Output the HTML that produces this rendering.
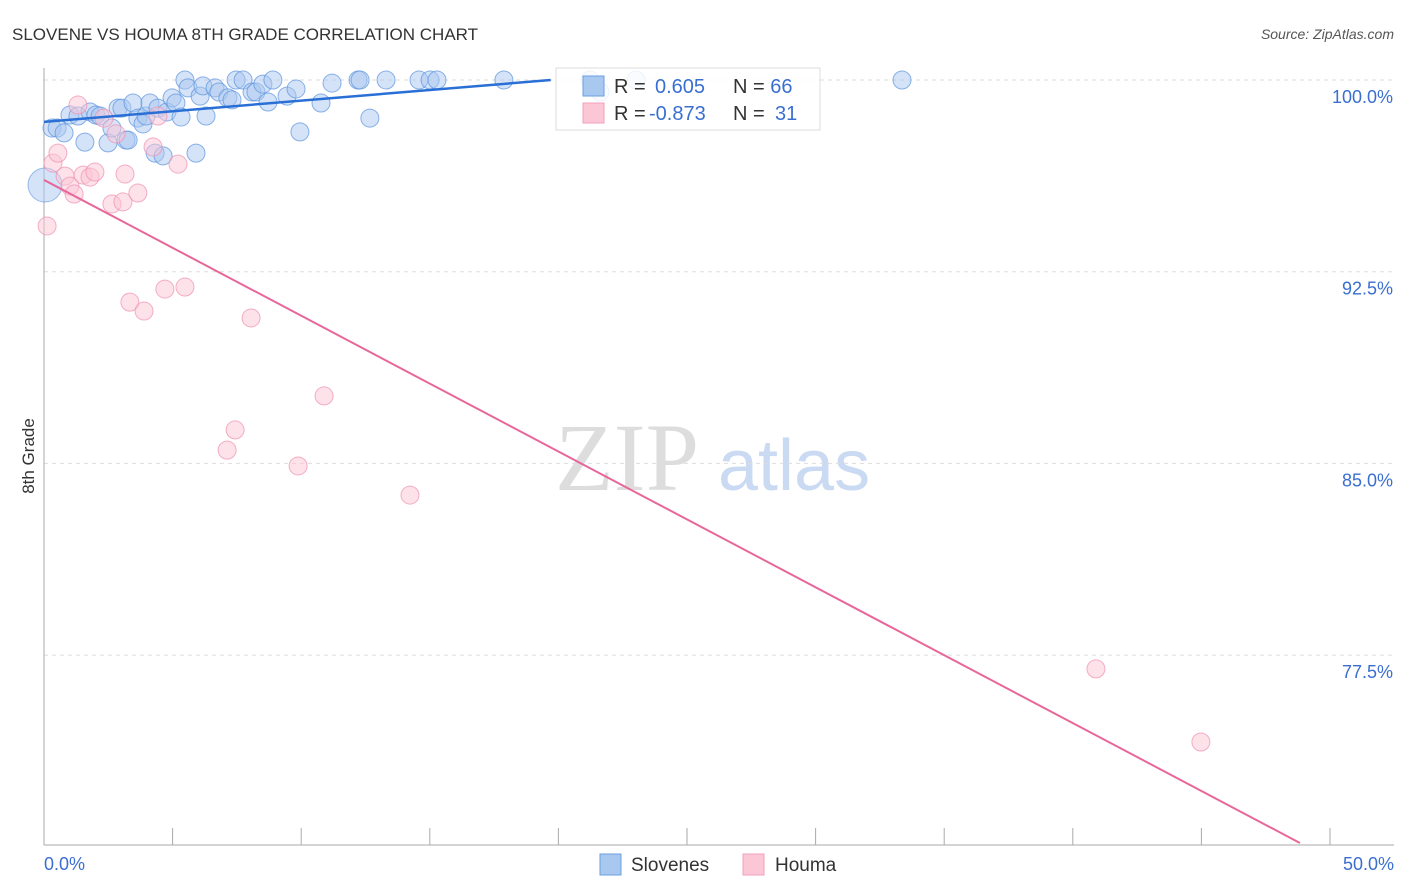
<!DOCTYPE html>
<html><head><meta charset="utf-8"><style>
body{margin:0;background:#fff;font-family:"Liberation Sans",sans-serif;}
svg{display:block}
</style></head><body>
<svg width="1406" height="892">
<text x="12" y="40" font-size="17" fill="#333">SLOVENE VS HOUMA 8TH GRADE CORRELATION CHART</text>
<text x="1394" y="39" font-size="14" fill="#555" font-style="italic" text-anchor="end">Source: ZipAtlas.com</text>
<text x="555" y="490" font-size="96" fill="#ddd" font-family="Liberation Serif,serif">ZIP</text>
<text x="718" y="490" font-size="72" fill="#c9daf2">atlas</text>
<g id="grid"></g>
<g id="axes"></g>
<g id="pts"></g>
<g id="lines"></g>
<text transform="translate(34,456) rotate(-90)" font-size="17" fill="#333" text-anchor="middle">8th Grade</text>
<g>
<rect x="556" y="68" width="264" height="62" fill="#fff" fill-opacity="0.85" stroke="#ddd"/>
<rect x="583" y="76" width="21" height="20" fill="#a9c8f0" stroke="#6a9fe0"/>
<rect x="583" y="103" width="21" height="20" fill="#fbc6d6" stroke="#f3a0bb"/>
<text x="614" y="93" font-size="20" fill="#333">R = <tspan fill="#3a6fd0" x="655">0.605</tspan><tspan x="733" fill="#333">N = </tspan><tspan fill="#3a6fd0">66</tspan></text>
<text x="614" y="120" font-size="20" fill="#333">R = <tspan fill="#3a6fd0" x="649">-0.873</tspan><tspan x="733" fill="#333">N = </tspan><tspan fill="#3a6fd0" x="775">31</tspan></text>
</g>
<g>
<rect x="600" y="854" width="21" height="21" fill="#a9c8f0" stroke="#6a9fe0"/>
<text x="631" y="871" font-size="19" fill="#333">Slovenes</text>
<rect x="743" y="854" width="21" height="21" fill="#fbc6d6" stroke="#f3a0bb"/>
<text x="775" y="871" font-size="19" fill="#333">Houma</text>
</g>
</svg>
<script>
const blueX=[0.31,0.51,0.78,1.01,1.32,1.59,1.79,2.02,2.18,2.49,2.64,2.88,3.03,3.19,3.27,3.46,3.65,3.85,3.97,4.12,4.32,4.43,4.63,4.78,4.98,5.13,5.33,5.48,5.60,5.91,6.07,6.18,6.30,6.65,6.80,7.15,7.31,7.47,7.74,8.09,8.24,8.51,8.71,8.90,9.45,9.80,9.95,10.77,11.20,12.21,12.29,12.67,13.30,14.58,15.01,15.28,17.88,21.23,21.62,23.02,33.36];
const blueY=[98.12,98.12,97.93,98.63,98.59,97.57,98.75,98.63,98.59,97.54,98.12,98.90,98.90,97.65,97.65,99.10,98.51,98.28,98.59,99.10,97.14,98.90,97.03,98.75,99.30,99.10,98.55,100,99.69,97.14,99.37,99.77,98.59,99.69,99.53,99.30,99.22,100,100,99.53,99.53,99.84,99.14,100,99.37,99.65,97.97,99.10,99.88,100,100,98.51,100,100,100,100,100,100,99.53,100,100];
const pinkX=[0.12,0.35,0.54,0.82,1.01,1.17,1.32,1.52,1.79,1.98,2.33,2.64,2.80,3.07,3.15,3.34,3.65,3.89,4.24,4.43,4.70,5.21,5.48,7.12,7.43,8.05,9.88,10.89,14.23,40.90,44.98];
const pinkY=[94.29,96.75,97.14,96.24,95.85,95.54,99.02,96.28,96.20,96.40,98.51,95.15,97.89,95.23,96.32,91.31,95.58,90.96,97.38,98.59,91.82,96.71,91.90,85.52,86.31,90.69,84.90,87.64,83.76,76.96,74.10];
const bigX=[0.04], bigY=[95.89];
const blueTrendX=[0,19.7], blueTrendY=[98.36,100];
const pinkTrendX=[0,48.83], pinkTrendY=[96.09,70.15];
const yTicks=[100,92.5,85,77.5], yTickLabels=["100.0%","92.5%","85.0%","77.5%"];
const xTicks=[0,5,10,15,20,25,30,35,40,45,50];
const X=v=>44+v/50*1286, Y=v=>80+(100-v)*25.56;
const NS="http://www.w3.org/2000/svg";
function mk(p,t,a){const e=document.createElementNS(NS,t);for(const k in a)e.setAttribute(k,a[k]);document.getElementById(p).appendChild(e);return e;}
yTicks.forEach((v,i)=>{
 const l=mk('grid','line',{x1:44,x2:1394,y1:Y(v),y2:Y(v),stroke:'#ddd','stroke-dasharray':'4,4'});
 
 
 const t=mk('grid','text',{x:1393,y:Y(v)+23,'font-size':18,fill:'#3a6fd0','text-anchor':'end'});
 t.textContent=yTickLabels[i];
 
 
});
let a=mk('axes','line',{x1:44,x2:44,y1:68,y2:845,stroke:'#aaa'});


a=mk('axes','line',{x1:44,x2:1394,y1:845,y2:845,stroke:'#aaa'});


xTicks.forEach(v=>{const t=mk('axes','line',{x1:X(v),x2:X(v),y1:828,y2:845,stroke:'#aaa'});
 
 });
let t=mk('axes','text',{x:44,y:870,'font-size':18,fill:'#3a6fd0'});t.textContent=xTicks[0].toFixed(1)+'%';


t=mk('axes','text',{x:1394,y:870,'font-size':18,fill:'#3a6fd0','text-anchor':'end'});t.textContent=xTicks[xTicks.length-1].toFixed(1)+'%';


blueX.forEach((v,i)=>{const c=mk('pts','circle',{cx:X(v),cy:Y(blueY[i]),r:9,fill:'#a9c8f0','fill-opacity':0.5,stroke:'#5b93de','stroke-opacity':0.7});
 
 });
bigX.forEach((v,i)=>{const c=mk('pts','circle',{cx:X(v),cy:Y(bigY[i]),r:17,fill:'#a9c8f0','fill-opacity':0.5,stroke:'#5b93de','stroke-opacity':0.6});
 
 });
pinkX.forEach((v,i)=>{const c=mk('pts','circle',{cx:X(v),cy:Y(pinkY[i]),r:9,fill:'#fbc6d6','fill-opacity':0.5,stroke:'#f08fb0','stroke-opacity':0.7});
 
 });
let L=mk('lines','line',{x1:X(blueTrendX[0]),y1:Y(blueTrendY[0]),x2:X(blueTrendX[1]),y2:Y(blueTrendY[1]),stroke:'#2a6fd6','stroke-width':2.5});


L=mk('lines','line',{x1:X(pinkTrendX[0]),y1:Y(pinkTrendY[0]),x2:X(pinkTrendX[1]),y2:Y(pinkTrendY[1]),stroke:'#e8679a','stroke-width':2});


</script>
</body></html>
